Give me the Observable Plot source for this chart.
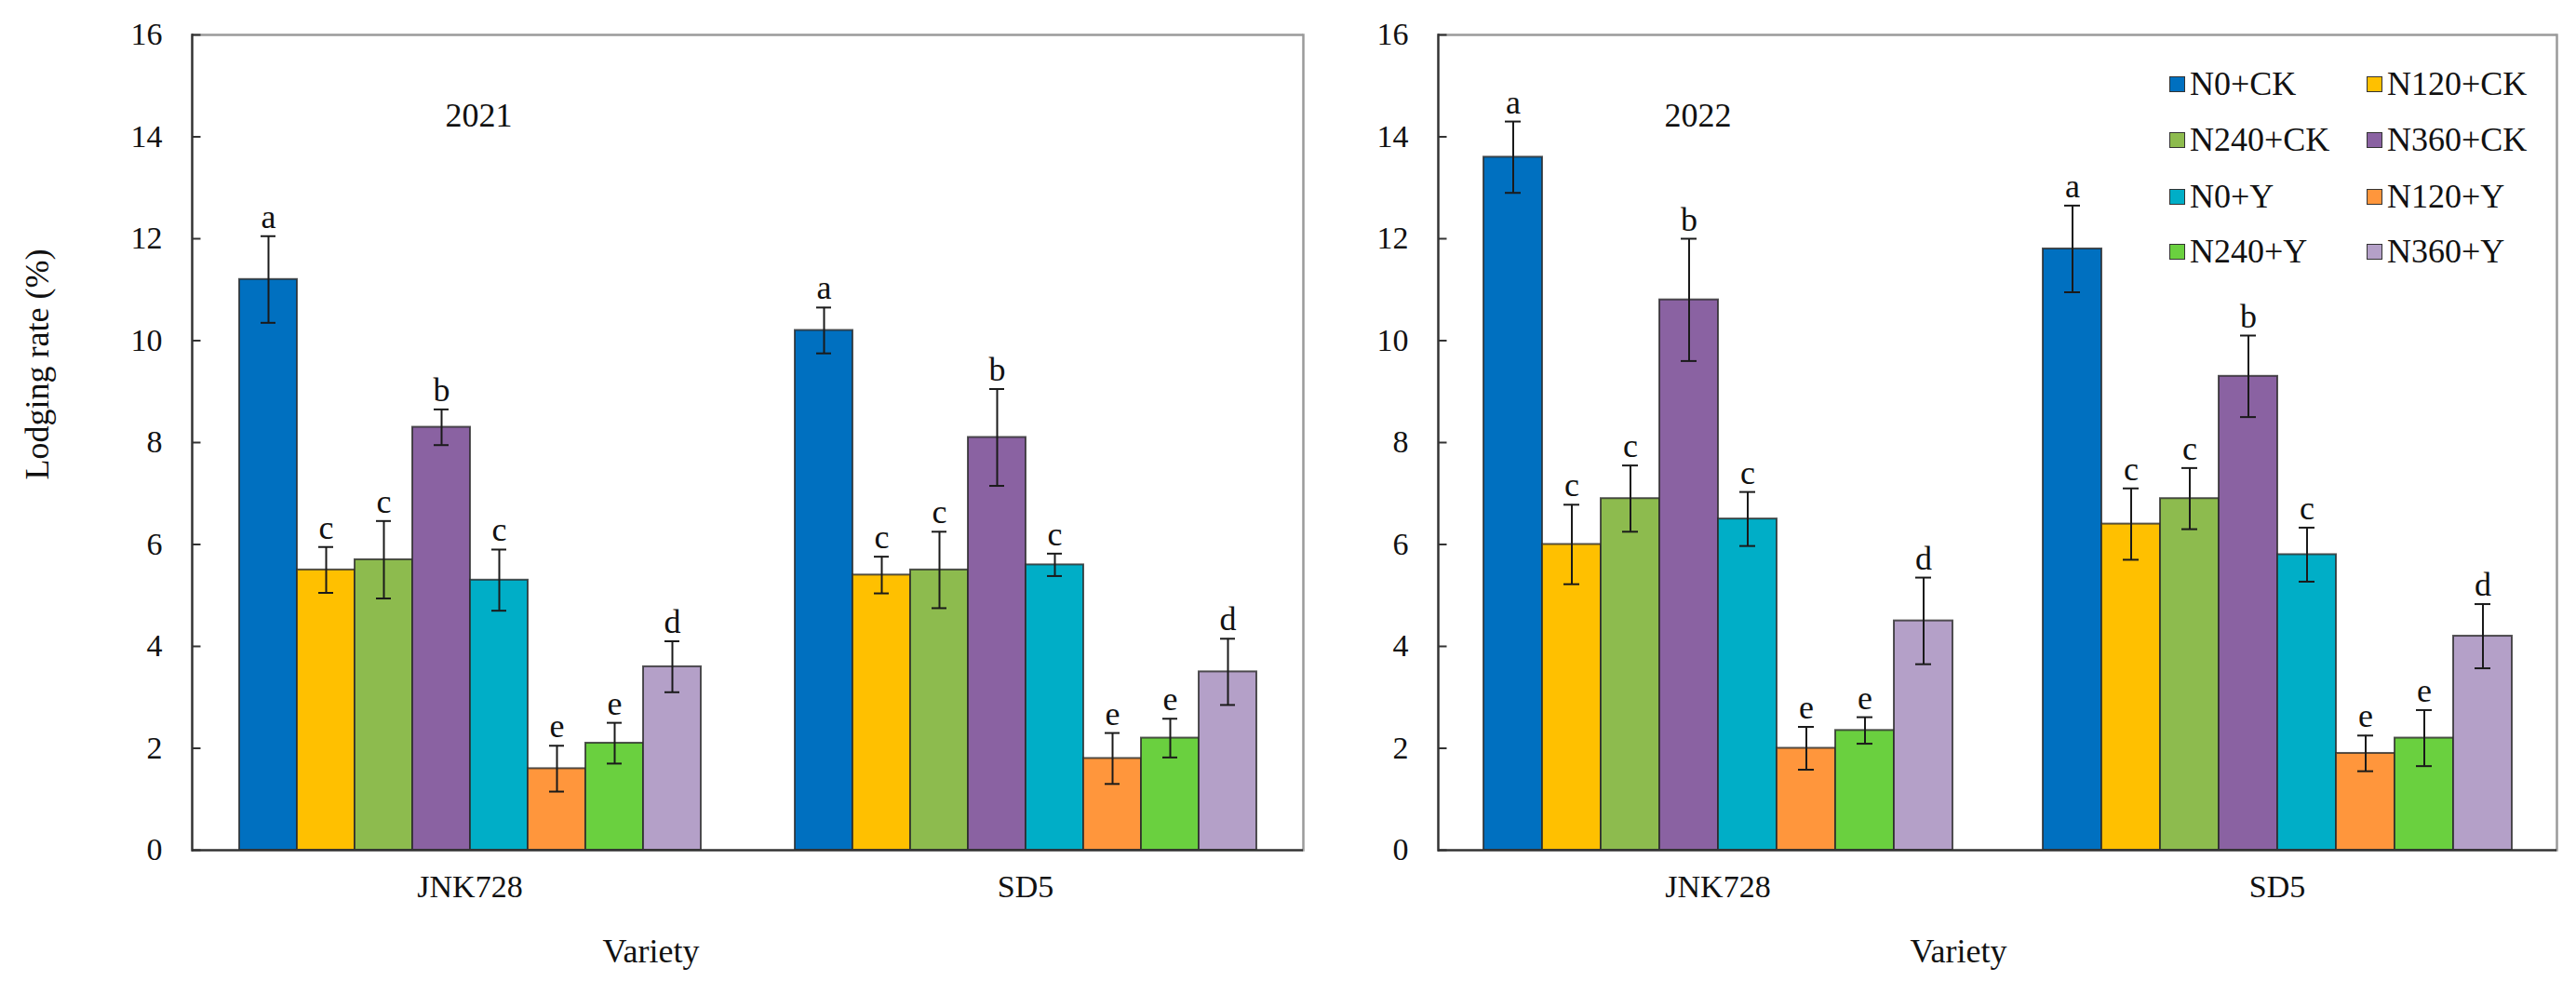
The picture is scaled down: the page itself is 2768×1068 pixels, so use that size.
<!DOCTYPE html>
<html>
<head>
<meta charset="utf-8">
<script src="https://cdn.jsdelivr.net/npm/d3@7"></script>
<script src="https://cdn.jsdelivr.net/npm/@observablehq/plot@0.6"></script>
<style>
  html, body { margin: 0; padding: 0; background: #fff; }
  #wrap { position: relative; width: 2768px; height: 1068px; overflow: hidden; background: #fff; font-family: 'Liberation Serif', serif; }
  #wrap svg { position: absolute; top: 0; }
  .leg { position: absolute; display: flex; align-items: center; font-family: 'Liberation Serif', serif; font-size: 36px; color: #111; line-height: 1; white-space: nowrap; }
  .leg span.sw { display: inline-block; width: 17px; height: 17px; border: 1.5px solid #333; margin-right: 5px; box-sizing: border-box; }
</style>
</head>
<body>
<div id="wrap"></div>
<script>
// ---- data ----
const treatments = ["N0+CK", "N120+CK", "N240+CK", "N360+CK", "N0+Y", "N120+Y", "N240+Y", "N360+Y"];
const varieties = ["JNK728", "SD5"];
const colors = ["#0070C0", "#FFC000", "#8DBB4E", "#8A62A2", "#00AEC7", "#FF963C", "#6AD03F", "#B4A0C8"];
const yTicks = [0, 2, 4, 6, 8, 10, 12, 14, 16];

const mean2021JNK728 = [11.2, 5.5, 5.7, 8.3, 5.3, 1.6, 2.1, 3.6];
const err2021JNK728  = [0.85, 0.45, 0.76, 0.35, 0.6, 0.45, 0.4, 0.5];
const letters2021JNK728 = ["a", "c", "c", "b", "c", "e", "e", "d"];
const mean2021SD5 = [10.2, 5.4, 5.5, 8.1, 5.6, 1.8, 2.2, 3.5];
const err2021SD5  = [0.45, 0.36, 0.75, 0.95, 0.22, 0.5, 0.38, 0.65];
const letters2021SD5 = ["a", "c", "c", "b", "c", "e", "e", "d"];

const mean2022JNK728 = [13.6, 6.0, 6.9, 10.8, 6.5, 2.0, 2.35, 4.5];
const err2022JNK728  = [0.7, 0.78, 0.65, 1.2, 0.53, 0.42, 0.26, 0.85];
const letters2022JNK728 = ["a", "c", "c", "b", "c", "e", "e", "d"];
const mean2022SD5 = [11.8, 6.4, 6.9, 9.3, 5.8, 1.9, 2.2, 4.2];
const err2022SD5  = [0.85, 0.7, 0.6, 0.8, 0.53, 0.35, 0.55, 0.63];
const letters2022SD5 = ["a", "c", "c", "b", "c", "e", "e", "d"];

function rowsFor(variety, means, errs, letters) {
  return treatments.map((t, i) => ({variety, treatment: t, mean: means[i], err: errs[i], letter: letters[i]}));
}

function panel({year, rows, left, width, marginLeft, marginRight, yearDx, varietyDx, showYLabel}) {
  const height = 1068, marginTop = 37, marginBottom = 155;
  const facetW = (width - marginLeft - marginRight) / 2;
  const ink = "#1a1a1a";
  const marks = [
    Plot.ruleY([16], {stroke: "#9a9a9a", strokeWidth: 2.5}),
    Plot.frame({anchor: "right", facetAnchor: "right", stroke: "#9a9a9a", strokeWidth: 2.5}),
    Plot.barY(rows, {fx: "variety", x: "treatment", y: "mean", fill: "treatment",
      stroke: "#2a2a2a", strokeOpacity: 0.8, strokeWidth: 2}),
    Plot.ruleX(rows, {fx: "variety", x: "treatment", y1: d => d.mean - d.err, y2: d => d.mean + d.err,
      stroke: ink, strokeWidth: 2}),
    Plot.tickY(rows, {fx: "variety", x: "treatment", y: d => d.mean - d.err, stroke: ink, strokeWidth: 2, insetLeft: 23, insetRight: 23}),
    Plot.tickY(rows, {fx: "variety", x: "treatment", y: d => d.mean + d.err, stroke: ink, strokeWidth: 2, insetLeft: 23, insetRight: 23}),
    Plot.text(rows, {fx: "variety", x: "treatment", y: d => d.mean + d.err, text: "letter",
      lineAnchor: "bottom", dy: -9, fontSize: 36, fill: "#111"}),
    Plot.ruleY([0], {stroke: "#333", strokeWidth: 2.5}),
    Plot.frame({anchor: "left", facetAnchor: "left", stroke: "#333", strokeWidth: 2.5}),
    Plot.tickY(yTicks, {y: d => d, facetAnchor: "left", insetRight: facetW - 10, stroke: "#333", strokeWidth: 2}),
    Plot.axisY({ticks: yTicks, tickSize: 0, tickPadding: 32, fontSize: 34, tickFormat: d => String(d), label: null}),
    Plot.axisFx({anchor: "bottom", tickSize: 0, tickPadding: 26, fontSize: 34, label: null}),
    Plot.text([year], {text: d => d, frameAnchor: "top-left", facetAnchor: "left", dx: yearDx, dy: 73, fontSize: 36, fill: "#111"}),
    Plot.text(["Variety"], {text: d => d, frameAnchor: "bottom-left", facetAnchor: "left", dx: varietyDx, dy: 120, fontSize: 36, fill: "#111"})
  ];
  if (showYLabel) {
    marks.push(Plot.text(["Lodging rate (%)"], {text: d => d, frameAnchor: "left", facetAnchor: "left",
      rotate: -90, dx: -166, dy: 40, fontSize: 36, fill: "#111"}));
  }
  const svg = Plot.plot({
    width, height, marginLeft, marginRight, marginTop, marginBottom,
    style: {fontFamily: "'Liberation Serif', serif", fontSize: "34px", color: "#111", background: "transparent", overflow: "visible"},
    fx: {domain: varieties, padding: 0, label: null},
    x: {domain: treatments, paddingInner: 0, paddingOuter: 0.742, axis: null},
    y: {domain: [0, 16]},
    color: {domain: treatments, range: colors},
    marks
  });
  svg.style.left = left + "px";
  document.getElementById("wrap").appendChild(svg);
}

const rows2021 = [
  ...rowsFor("JNK728", mean2021JNK728, err2021JNK728, letters2021JNK728),
  ...rowsFor("SD5", mean2021SD5, err2021SD5, letters2021SD5)
];
const rows2022 = [
  ...rowsFor("JNK728", mean2022JNK728, err2022JNK728, letters2022JNK728),
  ...rowsFor("SD5", mean2022SD5, err2022SD5, letters2022SD5)
];

panel({year: "2021", rows: rows2021, left: 0, width: 1410, marginLeft: 205, marginRight: 10, yearDx: 272, varietyDx: 441, showYLabel: true});
panel({year: "2022", rows: rows2022, left: 1410, width: 1358, marginLeft: 134, marginRight: 21, yearDx: 243, varietyDx: 507, showYLabel: false});

// ---- legend (inside the 2022 panel) ----
const legendCols = [2331, 2543];
const legendRows = [90, 150, 211, 270];
treatments.forEach((t, i) => {
  const el = document.createElement("div");
  el.className = "leg";
  el.style.left = legendCols[i % 2] + "px";
  el.style.top = (legendRows[Math.floor(i / 2)] - 18) + "px";
  el.style.height = "36px";
  const sw = document.createElement("span");
  sw.className = "sw";
  sw.style.background = colors[i];
  el.appendChild(sw);
  el.appendChild(document.createTextNode(t));
  document.getElementById("wrap").appendChild(el);
});
</script>
</body>
</html>
